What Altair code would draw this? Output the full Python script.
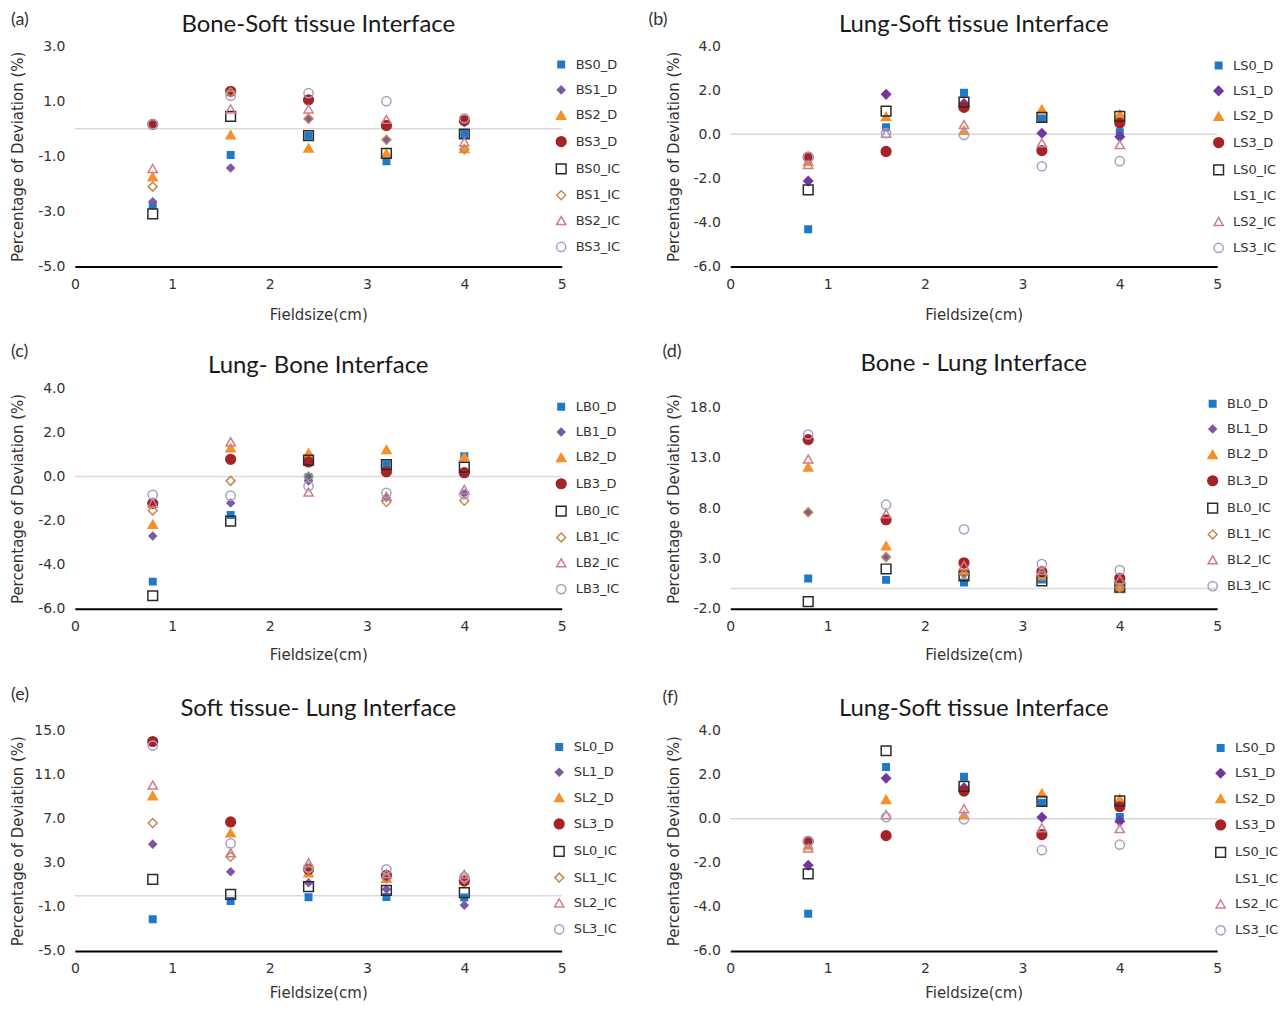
import altair as alt
import pandas as pd

FIELD_SIZES = [0.8, 1.6, 2.4, 3.2, 4.0]

# (a) Bone-Soft tissue
BS = {
    "BS0_D": [-2.77, -0.95, -0.25, -1.18, -0.19],
    "BS1_D": [-2.65, -1.42, 0.36, -0.40, 0.22],
    "BS2_D": [-1.74, -0.22, -0.70, -0.89, -0.72],
    "BS3_D": [0.16, 1.36, 1.05, 0.12, 0.30],
    "BS0_IC": [-3.09, 0.45, -0.25, -0.89, -0.19],
    "BS1_IC": [-2.10, 1.32, 0.36, -0.40, -0.74],
    "BS2_IC": [-1.44, 0.72, 0.72, 0.34, -0.48],
    "BS3_IC": [0.16, 1.20, 1.29, 1.00, 0.38],
}
# (b) Lung-Soft tissue
LS_B = {
    "LS0_D": [-4.31, 0.32, 1.88, 0.72, 0.09],
    "LS1_D": [-2.12, 1.81, 1.40, 0.05, -0.11],
    "LS2_D": [-1.22, 0.81, 0.18, 1.14, 0.92],
    "LS3_D": [-1.04, -0.78, 1.22, -0.74, 0.51],
    "LS0_IC": [-2.52, 1.05, 1.46, 0.77, 0.81],
    "LS1_IC": [],
    "LS2_IC": [-1.37, 0.05, 0.44, -0.39, -0.47],
    "LS3_IC": [-1.04, 0.05, -0.03, -1.45, -1.22],
}
# (c) Lung-Bone
LB = {
    "LB0_D": [-4.77, -1.75, -0.03, 0.54, 0.92],
    "LB1_D": [-2.70, -1.20, -0.21, -0.95, -0.77],
    "LB2_D": [-2.17, 1.30, 1.07, 1.22, 0.89],
    "LB3_D": [-1.22, 0.78, 0.66, 0.21, 0.17],
    "LB0_IC": [-5.41, -2.03, 0.74, 0.54, 0.42],
    "LB1_IC": [-1.54, -0.20, 0.00, -1.16, -1.10],
    "LB2_IC": [-1.20, 1.57, -0.71, -0.90, -0.59],
    "LB3_IC": [-0.83, -0.87, -0.44, -0.74, -0.80],
}
# (d) Bone-Lung
BL = {
    "BL0_D": [1.00, 0.87, 0.61, 0.90, 0.20],
    "BL1_D": [7.59, 3.13, 1.46, 1.30, 0.10],
    "BL2_D": [12.08, 4.25, 1.85, 1.30, 0.00],
    "BL3_D": [14.80, 6.84, 2.57, 1.69, 1.03],
    "BL0_IC": [-1.30, 1.95, 1.26, 0.77, 0.15],
    "BL1_IC": [7.59, 3.13, 1.46, 1.30, 0.10],
    "BL2_IC": [12.87, 7.43, 2.30, 1.80, 0.90],
    "BL3_IC": [15.30, 8.34, 5.89, 2.44, 1.85],
}
# (e) Soft tissue-Lung
SL = {
    "SL0_D": [-2.12, -0.46, -0.13, -0.10, -0.16],
    "SL1_D": [4.69, 2.19, 1.19, 0.59, -0.86],
    "SL2_D": [9.08, 5.71, 2.10, 1.60, 1.40],
    "SL3_D": [14.00, 6.70, 2.40, 1.86, 1.34],
    "SL0_IC": [1.49, 0.14, 0.83, 0.50, 0.29],
    "SL1_IC": [6.61, 3.54, 2.40, 1.60, 1.50],
    "SL2_IC": [10.05, 3.90, 3.00, 2.00, 1.95],
    "SL3_IC": [13.63, 4.75, 2.55, 2.40, 1.70],
}
# (f) Lung-Soft tissue
LS_F = {
    "LS0_D": [-4.31, 2.34, 1.90, 0.72, 0.08],
    "LS1_D": [-2.11, 1.83, 1.40, 0.06, -0.12],
    "LS2_D": [-1.20, 0.87, 0.18, 1.15, 0.90],
    "LS3_D": [-1.03, -0.77, 1.25, -0.72, 0.54],
    "LS0_IC": [-2.50, 3.08, 1.46, 0.78, 0.81],
    "LS1_IC": [],
    "LS2_IC": [-1.33, 0.18, 0.45, -0.41, -0.45],
    "LS3_IC": [-1.03, 0.06, -0.03, -1.43, -1.18],
}

TITLE_FONT = "Lato"
FONT = "DejaVu Sans"
TXT = "#333333"
GRID = "#d9d9d9"

FILLS = ["#2078c6", "#7a5aa3", "#f7902a", "#a52326",
         "transparent", "transparent", "transparent", "transparent"]
STROKES = ["#2078c6", "#7a5aa3", "#f7902a", "#a52326",
           "#2b2b2b", "#c48a52", "#cf7c8c", "#a59fc6"]
SHAPES = ["square", "diamond", "triangle-up", "circle",
          "square", "diamond", "triangle-up", "circle"]
SIZES = [42, 55, 85, 95, 95, 80, 85, 85]

PANELS = [
    dict(label="(a)", title="Bone-Soft tissue Interface", data=BS,
         domain=[-5, 3], ticks=[-5, -3, -1, 1, 3], lx=-64, ly=-35, ty=-21,
         legx=481, legy=12, xty=48),
    dict(label="(b)", title="Lung-Soft tissue Interface", data=LS_B,
         domain=[-6, 4], ticks=[-6, -4, -2, 0, 2, 4], lx=-82, ly=-35, ty=-21,
         legx=483, legy=13, xty=48, lung=True),
    dict(label="(c)", title="Lung- Bone Interface", data=LB,
         domain=[-6, 4], ticks=[-6, -4, -2, 0, 2, 4], lx=-64, ly=-45, ty=-22,
         legx=481, legy=12, xty=46),
    dict(label="(d)", title="Bone - Lung Interface", data=BL,
         domain=[-2, 19.9], ticks=[-2, 3, 8, 13, 18], lx=-68, ly=-45, ty=-24,
         legx=477, legy=9, xty=46),
    dict(label="(e)", title="Soft tissue- Lung Interface", data=SL,
         domain=[-5, 15], ticks=[-5, -1, 3, 7, 11, 15], lx=-64, ly=-45, ty=-22,
         legx=479, legy=10, xty=42),
    dict(label="(f)", title="Lung-Soft tissue Interface", data=LS_F,
         domain=[-6, 4], ticks=[-6, -4, -2, 0, 2, 4], lx=-68, ly=-42, ty=-22,
         legx=485, legy=11, xty=42, lung=True),
]


def make_panel(cfg):
    names = list(cfg["data"].keys())
    rows = []
    for n in names:
        for x, y in zip(FIELD_SIZES, cfg["data"][n]):
            rows.append({"series": n, "x": x, "y": y})
    df = pd.DataFrame(rows)

    fills = list(FILLS)
    strokes = list(STROKES)
    sizes = list(SIZES)
    if cfg.get("lung"):
        fills[1] = strokes[1] = "#7337a0"
        sizes[1] = 80
    for i, n in enumerate(names):
        if len(cfg["data"][n]) == 0:
            strokes[i] = "transparent"
            fills[i] = "transparent"

    xenc = alt.X(
        "x:Q",
        scale=alt.Scale(domain=[0, 5], nice=False, zero=False),
        axis=alt.Axis(values=[0, 1, 2, 3, 4, 5], format="d", grid=False,
                      ticks=False, domainColor="#000000", domainWidth=2,
                      labelFlush=False,
                      labelPadding=11, labelFontSize=14, labelColor=TXT,
                      labelFont=FONT,
                      title="Fieldsize(cm)", titleFontSize=15, titleFont=FONT,
                      titleColor=TXT, titleFontWeight="normal",
                      titleY=cfg["xty"], titleBaseline="middle"),
    )
    yenc = alt.Y(
        "y:Q",
        scale=alt.Scale(domain=cfg["domain"], nice=False, zero=False),
        axis=alt.Axis(values=cfg["ticks"], domain=False, ticks=False,
                      labelExpr="replace(format(datum.value, '.1f'), '\u2212', '-')",
                      gridColor=GRID, gridWidth=1.5, labelPadding=10,
                      labelFontSize=14, labelColor=TXT, labelFont=FONT,
                      title="Percentage of Deviation (%)", titleFontSize=15,
                      titleFont=FONT,
                      titleColor=TXT, titleFontWeight="normal",
                      titleX=-57, titleBaseline="middle"),
    )
    legend = alt.Legend(orient="none", legendX=cfg["legx"], legendY=cfg["legy"],
                        labelFontSize=13, labelColor=TXT, labelFont=FONT,
                        rowPadding=10.4, labelOffset=8, padding=0,
                        symbolStrokeWidth=1.5)
    points = alt.Chart(df).mark_point(filled=False, opacity=1,
                                      strokeWidth=1.5).encode(
        x=xenc,
        y=yenc,
        fill=alt.Fill("series:N", title=None, legend=legend,
                      scale=alt.Scale(domain=names, range=fills)),
        stroke=alt.Stroke("series:N", title=None, legend=legend,
                          scale=alt.Scale(domain=names, range=strokes)),
        shape=alt.Shape("series:N", title=None, legend=legend,
                        scale=alt.Scale(domain=names, range=SHAPES)),
        size=alt.Size("series:N", title=None, legend=legend,
                      scale=alt.Scale(type="ordinal", domain=names, range=sizes)),
    )
    zero_rule = alt.Chart(pd.DataFrame({"z": [0]})).mark_rule(
        color=GRID, strokeWidth=1.5).encode(y=alt.datum(0))
    label = alt.Chart(pd.DataFrame({"t": [cfg["label"]]})).mark_text(
        align="left", baseline="top", fontSize=18, font=TITLE_FONT, color=TXT
    ).encode(x=alt.value(cfg["lx"]), y=alt.value(cfg["ly"]), text="t:N")
    title = alt.Chart(pd.DataFrame({"t": [cfg["title"]]})).mark_text(
        align="center", baseline="middle", fontSize=24, font=TITLE_FONT,
        color="#1a1a1a"
    ).encode(x=alt.value(244), y=alt.value(cfg["ty"]), text="t:N")
    return alt.layer(zero_rule, points, label, title).properties(width=488, height=221)


charts = [make_panel(c) for c in PANELS]

chart = alt.ConcatChart(
    concat=charts, columns=2, bounds="flush",
    spacing={"row": 122, "column": 169},
).resolve_scale(
    x="independent", y="independent", fill="independent",
    stroke="independent", shape="independent", size="independent",
).properties(
    padding={"left": 2, "top": 2, "right": 0, "bottom": 0}
).configure(font=FONT).configure_view(strokeWidth=0)

chart.save("out.html", embed_options={"renderer": "svg", "actions": False})
